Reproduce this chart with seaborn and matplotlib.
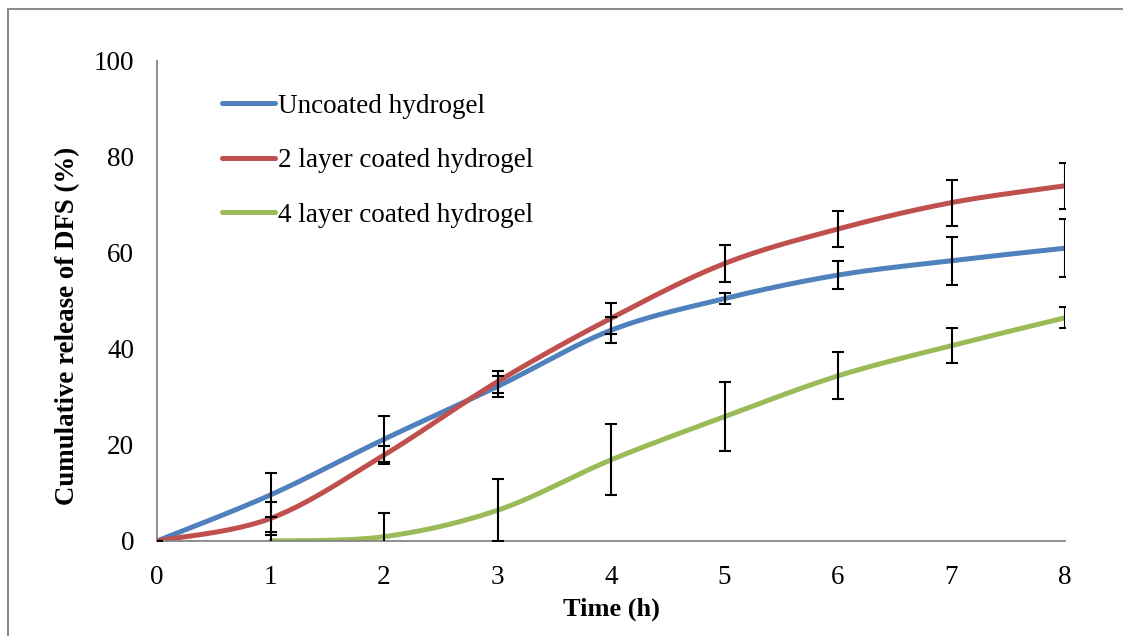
import numpy as np
import pandas as pd
import matplotlib
matplotlib.use("Agg")
import matplotlib.pyplot as plt
from matplotlib.patches import Rectangle
import seaborn as sns

# ---- data ----
time_h = [0, 1, 2, 3, 4, 5, 6, 7, 8]
uncoated = [0, 9.6, 21.2, 32.2, 43.9, 50.5, 55.4, 58.4, 61.0]
uncoated_err = [0, 4.6, 4.8, 2.2, 2.7, 1.2, 3.0, 5.0, 6.0]
layer2 = [0, 4.7, 17.9, 33.2, 46.4, 57.8, 65.0, 70.5, 74.0]
layer2_err = [0, 3.4, 1.8, 2.3, 3.2, 3.9, 3.8, 4.8, 4.8]
time_h4 = [1, 2, 3, 4, 5, 6, 7, 8]
layer4 = [0, 0.9, 6.4, 16.9, 25.9, 34.4, 40.7, 46.5]
layer4_err = [1.8, 4.9, 6.5, 7.4, 7.2, 4.9, 3.6, 2.2]

labels = ["Uncoated hydrogel", "2 layer coated hydrogel", "4 layer coated hydrogel"]
colors = ["#4F81BD", "#C0504D", "#9BBB59"]
x_ticks = [0, 1, 2, 3, 4, 5, 6, 7, 8]
y_ticks = [0, 20, 40, 60, 80, 100]


def smooth(xs, ys, n=40):
    """Excel-like smoothed line (cubic Bezier through the points)."""
    xs = np.asarray(xs, float)
    ys = np.asarray(ys, float)
    P = np.column_stack([xs, ys])
    Pext = np.vstack([P[0], P, P[-1]])
    out = []
    t = np.linspace(0, 1, n)[:, None]
    for i in range(len(P) - 1):
        p0, p1, p2, p3 = Pext[i], Pext[i + 1], Pext[i + 2], Pext[i + 3]
        c1 = p1 + (p2 - p0) / 6.0
        c2 = p2 - (p3 - p1) / 6.0
        seg = ((1 - t) ** 3) * p1 + 3 * ((1 - t) ** 2) * t * c1 + 3 * (1 - t) * t ** 2 * c2 + t ** 3 * p2
        out.append(seg if i == 0 else seg[1:])
    arr = np.vstack(out)
    return arr[:, 0], arr[:, 1]


sns.set_theme(style="white")
plt.rcParams["font.family"] = ["Liberation Serif", "DejaVu Serif"]
plt.rcParams["text.color"] = "black"
plt.rcParams["axes.labelcolor"] = "black"

fig = plt.figure(figsize=(11.23, 6.36), dpi=100)
ax = fig.add_axes([157 / 1123, 1 - 541 / 636, (1065 - 157) / 1123, (541 - 61) / 636])

series = [(time_h, uncoated, uncoated_err), (time_h, layer2, layer2_err), (time_h4, layer4, layer4_err)]
frames = []
for (xs, ys, _), lab in zip(series, labels):
    sx, sy = smooth(xs, ys)
    frames.append(pd.DataFrame({"x": sx, "y": sy, "series": lab, "order": np.arange(len(sx))}))
df = pd.concat(frames, ignore_index=True)

sns.lineplot(data=df, x="x", y="y", hue="series", hue_order=labels, palette=colors,
             sort=False, estimator=None, units="series", linewidth=3.6, ax=ax,
             solid_capstyle="round", zorder=2)

for xs, ys, es in series:
    ax.errorbar(xs, ys, yerr=es, fmt="none", ecolor="black", elinewidth=1.5,
                capsize=4.5, capthick=1.5, zorder=3)

ax.set_xlim(0, 8)
ax.set_ylim(0, 100)
ax.set_xticks(x_ticks)
ax.set_yticks(y_ticks)
ax.tick_params(axis="both", direction="inout", length=11, width=1.3, color="#868686",
               labelcolor="black", labelsize=19.5)
ax.tick_params(axis="y", pad=11)
ax.tick_params(axis="x", pad=12)
for s in ["top", "right"]:
    ax.spines[s].set_visible(False)
for s in ["left", "bottom"]:
    ax.spines[s].set_color("#868686")
    ax.spines[s].set_linewidth(1.3)

ax.set_xlabel("Time (h)", fontsize=19, fontweight="bold", color="black")
ax.set_ylabel("Cumulative release of DFS (%)", fontsize=19.4, fontweight="bold", color="black")
ax.xaxis.set_label_coords((611 - 157) / 908, -(609 - 541) / 480)
ax.yaxis.set_label_coords(-(157 - 68) / 908, (541 - 326) / 480)
ax.xaxis.label.set_va("center")
ax.yaxis.label.set_va("center")

leg = ax.legend(loc="upper left", bbox_to_anchor=(0.06, 0.954), frameon=False, fontsize=19.5,
                handlelength=1.95, handletextpad=0.1, labelspacing=1.09, borderaxespad=0,
                labelcolor="black")
for h in leg.get_lines():
    h.set_linewidth(3.6)
    h.set_solid_capstyle("round")

fig.patches.append(Rectangle((8 / 1123, -0.05), 1.2, 1 - 9 / 636 + 0.05, transform=fig.transFigure,
                             fill=False, edgecolor="#8c8c8c", linewidth=1.5, zorder=0))

fig.savefig("out.png", dpi=100)
